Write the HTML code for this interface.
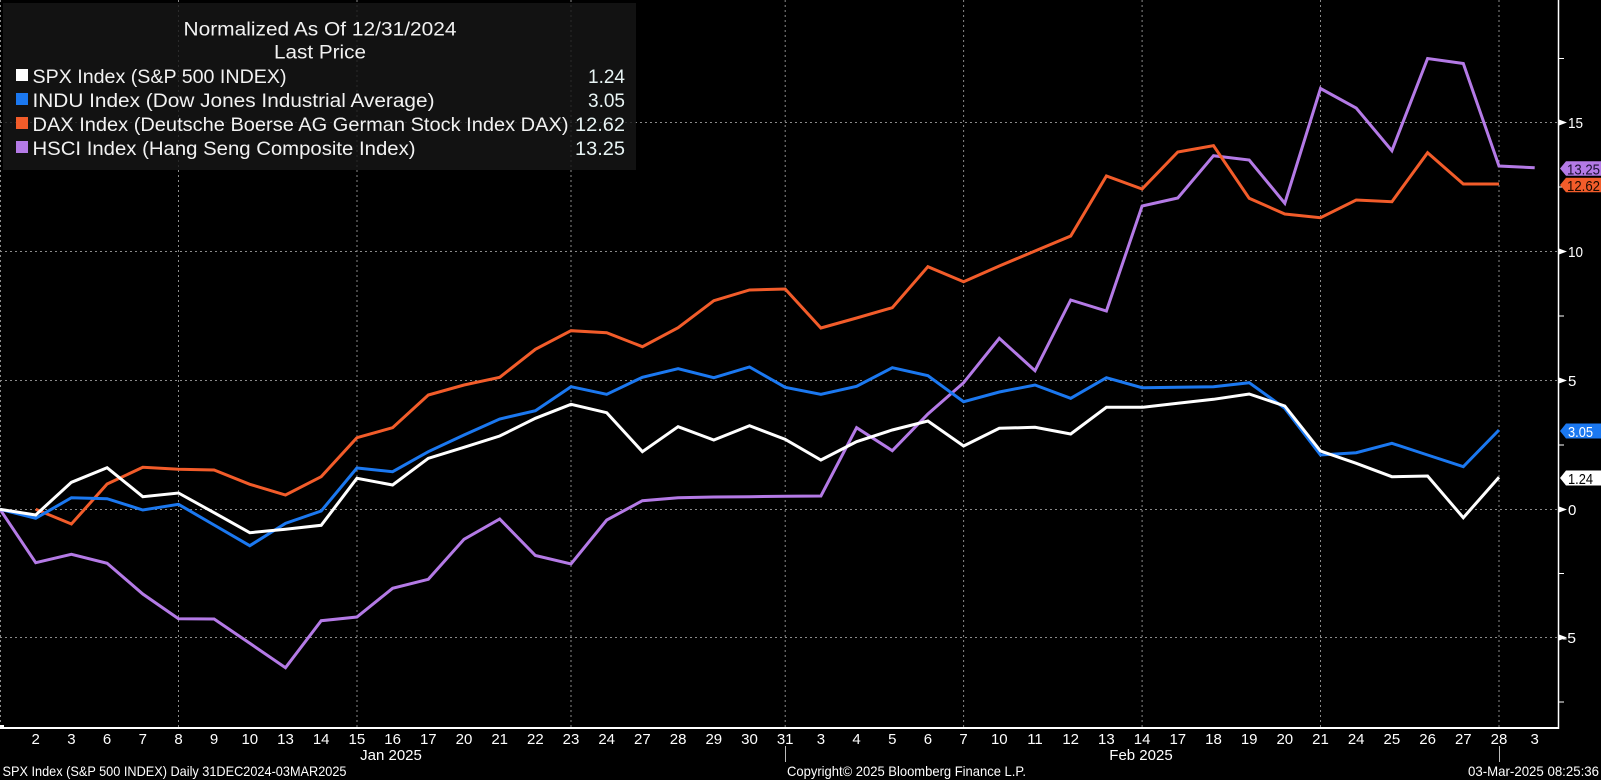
<!DOCTYPE html>
<html><head><meta charset="utf-8"><style>
html,body{margin:0;padding:0;background:#000;}
svg{display:block;}
text{font-family:"Liberation Sans",sans-serif;}
</style></head><body>
<svg width="1601" height="780" viewBox="0 0 1601 780" xmlns="http://www.w3.org/2000/svg">
<rect x="0" y="0" width="1601" height="780" fill="#000"/>
<!-- horizontal gridlines -->
<g stroke="#8a8a8a" stroke-width="1" stroke-dasharray="2,3" fill="none">
<line x1="0" y1="122.5" x2="1558" y2="122.5"/>
<line x1="0" y1="251.5" x2="1558" y2="251.5"/>
<line x1="0" y1="380.5" x2="1558" y2="380.5"/>
<line x1="0" y1="509.5" x2="1558" y2="509.5"/>
<line x1="0" y1="637.5" x2="1558" y2="637.5"/>
<!-- vertical gridlines -->
<line x1="0.5" y1="0" x2="0.5" y2="728"/>
<line x1="178.5" y1="0" x2="178.5" y2="728"/>
<line x1="357" y1="0" x2="357" y2="728"/>
<line x1="571" y1="0" x2="571" y2="728"/>
<line x1="785.2" y1="0" x2="785.2" y2="728"/>
<line x1="963.6" y1="0" x2="963.6" y2="728"/>
<line x1="1142.1" y1="0" x2="1142.1" y2="728"/>
<line x1="1320.5" y1="0" x2="1320.5" y2="728"/>
<line x1="1499" y1="0" x2="1499" y2="728"/>
</g>

<!-- series -->
<g fill="none" stroke-width="3" stroke-linejoin="miter" stroke-linecap="butt">
<polyline stroke="#b47ae6" points="0,509.3 35.7,562.7 71.4,554.3 107.1,563.3 142.8,594 178.5,618.7 214.1,619 249.8,643.3 285.5,667.7 321.2,620.7 356.9,617 392.6,588.3 428.3,579.3 464,539.3 499.7,519 535.4,555.5 571,564 606.7,520 642.4,500.7 678.1,497.7 713.8,497 749.5,496.7 785.2,496.3 820.9,496 856.6,427.7 892.3,450.7 927.9,414 963.6,382.7 999.3,338.3 1035,370.7 1070.7,300 1106.4,311 1142.1,206 1177.8,198 1213.5,155.7 1249.2,160 1284.8,203.3 1320.5,88.5 1356.2,108 1391.9,150.7 1427.6,58.5 1463.3,63.5 1499,166 1534.7,167.7"/>
<polyline stroke="#f25c2a" points="35.7,509.3 71.4,524 107.1,484 142.8,467.3 178.5,469.3 214.1,470 249.8,484.3 285.5,495 321.2,476.7 356.9,437.7 392.6,427.7 428.3,395 464,385 499.7,377.3 535.4,349.3 571,330.7 606.7,332.7 642.4,346.7 678.1,327.7 713.8,300.7 749.5,290 785.2,289 820.9,328 856.6,318 892.3,307.7 927.9,266.7 963.6,281.7 999.3,266 1035,251 1070.7,236 1106.4,176 1142.1,189 1177.8,152 1213.5,145.7 1249.2,198.3 1284.8,214 1320.5,217.7 1356.2,200 1391.9,201.7 1427.6,152.7 1463.3,184 1499,184"/>
<polyline stroke="#1b78f0" points="0,509.3 35.7,518.3 71.4,497.7 107.1,498.7 142.8,510 178.5,504.3 214.1,525 249.8,545.7 285.5,523.3 321.2,511 356.9,468 392.6,471.7 428.3,451.7 464,435 499.7,419 535.4,410.7 571,386.7 606.7,394.3 642.4,377.3 678.1,368.7 713.8,377.7 749.5,367 785.2,387.3 820.9,394.3 856.6,386.3 892.3,367.7 927.9,375.7 963.6,401.7 999.3,392 1035,385 1070.7,398.3 1106.4,377.7 1142.1,387.7 1177.8,387.3 1213.5,386.7 1249.2,382.7 1284.8,408.3 1320.5,455 1356.2,452.7 1391.9,443.3 1427.6,455 1463.3,466.7 1499,430"/>
<polyline stroke="#ffffff" points="0,509.3 35.7,515 71.4,482.3 107.1,467.7 142.8,496.7 178.5,493 214.1,512.7 249.8,532.7 285.5,529.3 321.2,525.3 356.9,478.3 392.6,485 428.3,458.3 464,447.3 499.7,436 535.4,418.3 571,404.3 606.7,412.7 642.4,451.7 678.1,426.7 713.8,440 749.5,425.7 785.2,439.3 820.9,460 856.6,441.7 892.3,430 927.9,421 963.6,446 999.3,428.3 1035,427.3 1070.7,434 1106.4,407.3 1142.1,407.3 1177.8,403.3 1213.5,399.3 1249.2,394 1284.8,406 1320.5,451 1356.2,463.3 1391.9,476.7 1427.6,476 1463.3,517.7 1499,477.3"/>
</g>

<!-- legend box -->
<rect x="3" y="3" width="633" height="167" fill="#161616" fill-opacity="0.82"/>
<g fill="#f2f2f2" font-size="19">
<text x="320" y="35.5" text-anchor="middle" textLength="273" lengthAdjust="spacingAndGlyphs">Normalized As Of 12/31/2024</text>
<text x="320" y="58.5" text-anchor="middle" textLength="92" lengthAdjust="spacingAndGlyphs">Last Price</text>
<rect x="16" y="69" width="12" height="12" fill="#ffffff"/>
<rect x="16" y="93" width="12" height="12" fill="#1b78f0"/>
<rect x="16" y="117" width="12" height="12" fill="#f25c2a"/>
<rect x="16" y="141" width="12" height="12" fill="#b47ae6"/>
<text x="32.5" y="83" textLength="254" lengthAdjust="spacingAndGlyphs">SPX Index (S&amp;P 500 INDEX)</text>
<text x="32.5" y="107" textLength="402" lengthAdjust="spacingAndGlyphs">INDU Index (Dow Jones Industrial Average)</text>
<text x="32.5" y="131" textLength="536" lengthAdjust="spacingAndGlyphs">DAX Index (Deutsche Boerse AG German Stock Index DAX)</text>
<text x="32.5" y="155" textLength="383" lengthAdjust="spacingAndGlyphs">HSCI Index (Hang Seng Composite Index)</text>
<g fill="#e8f4f4">
<text x="625" y="83" text-anchor="end" textLength="37" lengthAdjust="spacingAndGlyphs">1.24</text>
<text x="625" y="107" text-anchor="end" textLength="37" lengthAdjust="spacingAndGlyphs">3.05</text>
<text x="625" y="131" text-anchor="end" textLength="50" lengthAdjust="spacingAndGlyphs">12.62</text>
<text x="625" y="155" text-anchor="end" textLength="50" lengthAdjust="spacingAndGlyphs">13.25</text>
</g>
</g>

<!-- axes -->
<line x1="1558.5" y1="0" x2="1558.5" y2="729" stroke="#ffffff" stroke-width="1.5"/>
<line x1="0" y1="728" x2="1559" y2="728" stroke="#ffffff" stroke-width="2"/>
<rect x="0" y="725" width="4" height="4" fill="#fff"/>
<!-- right axis minor ticks -->
<g stroke="#ffffff" stroke-width="1">
<line x1="1558" y1="58.5" x2="1564" y2="58.5"/>
<line x1="1558" y1="187" x2="1564" y2="187"/>
<line x1="1558" y1="316" x2="1564" y2="316"/>
<line x1="1558" y1="445" x2="1564" y2="445"/>
<line x1="1558" y1="573.5" x2="1564" y2="573.5"/>
<line x1="1558" y1="702" x2="1564" y2="702"/>
</g>
<!-- right axis major ticks and labels -->
<g fill="#ffffff">
<polygon points="1559,119.5 1567,122.5 1559,125.5"/>
<polygon points="1559,248.5 1567,251.5 1559,254.5"/>
<polygon points="1559,377.5 1567,380.5 1559,383.5"/>
<polygon points="1559,506.5 1567,509.5 1559,512.5"/>
<polygon points="1559,634.5 1567,637.5 1559,640.5"/>
</g>
<g fill="#ffffff" font-size="15">
<text x="1568" y="128" textLength="15" lengthAdjust="spacingAndGlyphs">15</text>
<text x="1568" y="257" textLength="15" lengthAdjust="spacingAndGlyphs">10</text>
<text x="1568" y="386">5</text>
<text x="1568" y="515">0</text>
<text x="1562" y="643" textLength="14" lengthAdjust="spacingAndGlyphs">-5</text>
</g>

<!-- last value tags -->
<polygon points="1560,168.5 1566,161.3 1601,161.3 1601,175.7 1566,175.7" fill="#b47ae6"/>
<text x="1567" y="174.5" font-size="15" fill="#1a1030" textLength="33" lengthAdjust="spacingAndGlyphs">13.25</text>
<polygon points="1560,185 1566,177.8 1601,177.8 1601,192.2 1566,192.2" fill="#f25c2a"/>
<text x="1567" y="191" font-size="15" fill="#1a0a00" textLength="33" lengthAdjust="spacingAndGlyphs">12.62</text>
<polygon points="1560,431 1566,423.5 1601,423.5 1601,438.5 1566,438.5" fill="#1b78f0"/>
<text x="1568" y="437" font-size="15" fill="#ffffff" textLength="25" lengthAdjust="spacingAndGlyphs">3.05</text>
<polygon points="1560,478 1566,470.5 1601,470.5 1601,485.5 1566,485.5" fill="#ffffff"/>
<text x="1568" y="484" font-size="15" fill="#000000" textLength="25" lengthAdjust="spacingAndGlyphs">1.24</text>

<!-- x tick labels -->
<g fill="#ffffff" font-size="15" text-anchor="middle">
<text x="35.7" y="744">2</text>
<text x="71.4" y="744">3</text>
<text x="107.1" y="744">6</text>
<text x="142.8" y="744">7</text>
<text x="178.5" y="744">8</text>
<text x="214.1" y="744">9</text>
<text x="249.8" y="744">10</text>
<text x="285.5" y="744">13</text>
<text x="321.2" y="744">14</text>
<text x="356.9" y="744">15</text>
<text x="392.6" y="744">16</text>
<text x="428.3" y="744">17</text>
<text x="464" y="744">20</text>
<text x="499.7" y="744">21</text>
<text x="535.4" y="744">22</text>
<text x="571" y="744">23</text>
<text x="606.7" y="744">24</text>
<text x="642.4" y="744">27</text>
<text x="678.1" y="744">28</text>
<text x="713.8" y="744">29</text>
<text x="749.5" y="744">30</text>
<text x="785.2" y="744">31</text>
<text x="820.9" y="744">3</text>
<text x="856.6" y="744">4</text>
<text x="892.3" y="744">5</text>
<text x="927.9" y="744">6</text>
<text x="963.6" y="744">7</text>
<text x="999.3" y="744">10</text>
<text x="1035" y="744">11</text>
<text x="1070.7" y="744">12</text>
<text x="1106.4" y="744">13</text>
<text x="1142.1" y="744">14</text>
<text x="1177.8" y="744">17</text>
<text x="1213.5" y="744">18</text>
<text x="1249.2" y="744">19</text>
<text x="1284.8" y="744">20</text>
<text x="1320.5" y="744">21</text>
<text x="1356.2" y="744">24</text>
<text x="1391.9" y="744">25</text>
<text x="1427.6" y="744">26</text>
<text x="1463.3" y="744">27</text>
<text x="1499" y="744">28</text>
<text x="1534.7" y="744">3</text>
<text x="391" y="760">Jan 2025</text>
<text x="1141" y="760">Feb 2025</text>
</g>
<!-- month separators -->
<g stroke="#bbbbbb" stroke-width="1">
<line x1="785.5" y1="746" x2="785.5" y2="762"/>
<line x1="1499.5" y1="746" x2="1499.5" y2="762"/>
</g>

<!-- footer -->
<g fill="#ffffff" font-size="14">
<text x="2.5" y="776" textLength="344" lengthAdjust="spacingAndGlyphs">SPX Index (S&amp;P 500 INDEX)  Daily 31DEC2024-03MAR2025</text>
<text x="787" y="776" textLength="239" lengthAdjust="spacingAndGlyphs">Copyright© 2025 Bloomberg Finance L.P.</text>
<text x="1468" y="776" textLength="131" lengthAdjust="spacingAndGlyphs">03-Mar-2025 08:25:36</text>
</g>
</svg>
</body></html>
